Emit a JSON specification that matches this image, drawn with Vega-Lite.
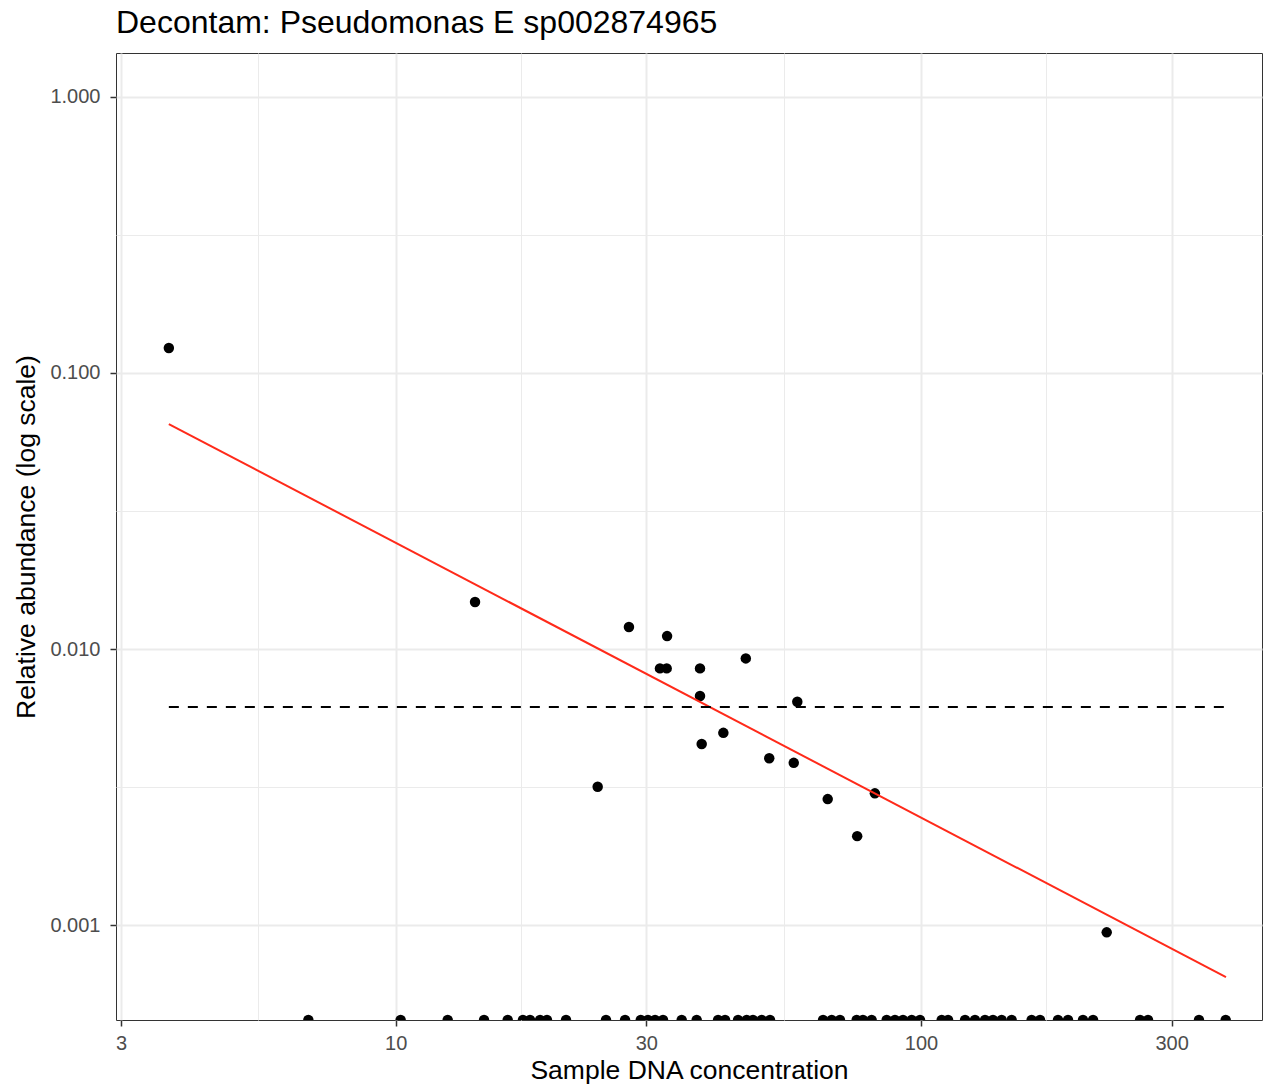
{
  "$schema": "https://vega.github.io/schema/vega-lite/v6.json",
  "width": 1146,
  "height": 967,
  "autosize": {"type": "none"},
  "padding": {"left": 116, "top": 53, "right": 1, "bottom": 68},
  "background": "white",
  "title": {
    "text": "Decontam: Pseudomonas E sp002874965",
    "anchor": "start",
    "frame": "group",
    "font": "Liberation Sans",
    "fontSize": 32,
    "fontWeight": "normal",
    "color": "#000000",
    "offset": 13
  },
  "datasets": {
    "samples": [
      {"conc": 3.70, "abundance": 0.1232},
      {"conc": 14.16, "abundance": 0.01481},
      {"conc": 27.8, "abundance": 0.01202},
      {"conc": 32.86, "abundance": 0.01114},
      {"conc": 31.85, "abundance": 0.00851},
      {"conc": 32.8, "abundance": 0.00851},
      {"conc": 37.96, "abundance": 0.00851},
      {"conc": 46.4, "abundance": 0.00925},
      {"conc": 37.96, "abundance": 0.00676},
      {"conc": 58.15, "abundance": 0.00644},
      {"conc": 38.24, "abundance": 0.00453},
      {"conc": 42.05, "abundance": 0.00497},
      {"conc": 51.42, "abundance": 0.00402},
      {"conc": 57.25, "abundance": 0.00387},
      {"conc": 24.24, "abundance": 0.00317},
      {"conc": 66.44, "abundance": 0.00286},
      {"conc": 81.7, "abundance": 0.0030},
      {"conc": 75.6, "abundance": 0.0021},
      {"conc": 225.7, "abundance": 0.000941},
      {"conc": 6.82, "abundance": 0.000453},
      {"conc": 10.22, "abundance": 0.000453},
      {"conc": 12.56, "abundance": 0.000453},
      {"conc": 14.73, "abundance": 0.000453},
      {"conc": 16.34, "abundance": 0.000453},
      {"conc": 17.47, "abundance": 0.000453},
      {"conc": 18.02, "abundance": 0.000453},
      {"conc": 18.83, "abundance": 0.000453},
      {"conc": 19.41, "abundance": 0.000453},
      {"conc": 21.10, "abundance": 0.000453},
      {"conc": 25.14, "abundance": 0.000453},
      {"conc": 27.33, "abundance": 0.000453},
      {"conc": 29.28, "abundance": 0.000453},
      {"conc": 30.22, "abundance": 0.000453},
      {"conc": 31.17, "abundance": 0.000453},
      {"conc": 32.28, "abundance": 0.000453},
      {"conc": 35.03, "abundance": 0.000453},
      {"conc": 37.41, "abundance": 0.000453},
      {"conc": 41.09, "abundance": 0.000453},
      {"conc": 42.37, "abundance": 0.000453},
      {"conc": 44.85, "abundance": 0.000453},
      {"conc": 46.58, "abundance": 0.000453},
      {"conc": 47.88, "abundance": 0.000453},
      {"conc": 49.74, "abundance": 0.000453},
      {"conc": 51.59, "abundance": 0.000453},
      {"conc": 65.10, "abundance": 0.000453},
      {"conc": 67.61, "abundance": 0.000453},
      {"conc": 70.11, "abundance": 0.000453},
      {"conc": 75.43, "abundance": 0.000453},
      {"conc": 77.54, "abundance": 0.000453},
      {"conc": 80.54, "abundance": 0.000453},
      {"conc": 86.03, "abundance": 0.000453},
      {"conc": 89.22, "abundance": 0.000453},
      {"conc": 92.41, "abundance": 0.000453},
      {"conc": 96.01, "abundance": 0.000453},
      {"conc": 99.56, "abundance": 0.000453},
      {"conc": 109.5, "abundance": 0.000453},
      {"conc": 112.6, "abundance": 0.000453},
      {"conc": 121.3, "abundance": 0.000453},
      {"conc": 126.7, "abundance": 0.000453},
      {"conc": 132.4, "abundance": 0.000453},
      {"conc": 137.1, "abundance": 0.000453},
      {"conc": 142.4, "abundance": 0.000453},
      {"conc": 148.8, "abundance": 0.000453},
      {"conc": 162.4, "abundance": 0.000453},
      {"conc": 168.5, "abundance": 0.000453},
      {"conc": 182.3, "abundance": 0.000453},
      {"conc": 190.5, "abundance": 0.000453},
      {"conc": 203.4, "abundance": 0.000453},
      {"conc": 212.6, "abundance": 0.000453},
      {"conc": 261.2, "abundance": 0.000453},
      {"conc": 270.5, "abundance": 0.000453},
      {"conc": 338.2, "abundance": 0.000453},
      {"conc": 380.2, "abundance": 0.000453}
    ],
    "fit": [
      {"conc": 3.70, "abundance": 0.0653},
      {"conc": 380.7, "abundance": 0.000648}
    ],
    "prev": [
      {"conc": 3.70, "abundance": 0.006165},
      {"conc": 380.7, "abundance": 0.006165}
    ]
  },
  "encoding": {
    "x": {
      "field": "conc",
      "type": "quantitative",
      "title": "Sample DNA concentration",
      "scale": {"type": "log", "domain": [2.935, 445.8], "nice": false},
      "axis": {
        "values": [3, 5.477, 10, 17.32, 30, 54.77, 100, 173.2, 300],
        "labelExpr": "indexof([3,10,30,100,300], datum.value) >= 0 ? format(datum.value, 'd') : ''",
        "tickOpacity": {"condition": {"test": "indexof([3,10,30,100,300], datum.value) >= 0", "value": 1}, "value": 0},
        "gridWidth": {"condition": {"test": "indexof([3,10,30,100,300], datum.value) >= 0", "value": 2}, "value": 1},
        "labelPadding": 7,
        "titlePadding": 4
      }
    },
    "y": {
      "field": "abundance",
      "type": "quantitative",
      "title": "Relative abundance (log scale)",
      "scale": {"type": "log", "domain": [0.000453, 1.443], "nice": false},
      "axis": {
        "values": [0.001, 0.003162, 0.01, 0.03162, 0.1, 0.3162, 1],
        "labelExpr": "indexof([0.001,0.01,0.1,1], datum.value) >= 0 ? format(datum.value, '.3f') : ''",
        "tickOpacity": {"condition": {"test": "indexof([0.001,0.01,0.1,1], datum.value) >= 0", "value": 1}, "value": 0},
        "gridWidth": {"condition": {"test": "indexof([0.001,0.01,0.1,1], datum.value) >= 0", "value": 2}, "value": 1},
        "labelPadding": 10,
        "titlePadding": 9
      }
    }
  },
  "layer": [
    {
      "data": {"name": "samples"},
      "mark": {"type": "circle", "size": 110, "color": "#000000", "opacity": 1, "clip": true}
    },
    {
      "data": {"name": "fit"},
      "mark": {"type": "line", "color": "#ff2a1a", "strokeWidth": 2, "clip": true}
    },
    {
      "data": {"name": "prev"},
      "mark": {"type": "line", "color": "#000000", "strokeWidth": 2, "strokeDash": [10, 9], "clip": true}
    }
  ],
  "config": {
    "font": "Liberation Sans",
    "view": {"stroke": "#333333", "strokeWidth": 1},
    "axis": {
      "domain": false,
      "grid": true,
      "gridColor": "#EBEBEB",
      "tickColor": "#333333",
      "tickSize": 6,
      "tickWidth": 1.5,
      "labelColor": "#4D4D4D",
      "labelFont": "Liberation Sans",
      "labelFontSize": 20,
      "titleFont": "Liberation Sans",
      "titleFontSize": 26.5,
      "titleFontWeight": "normal",
      "titleColor": "#000000"
    }
  }
}
